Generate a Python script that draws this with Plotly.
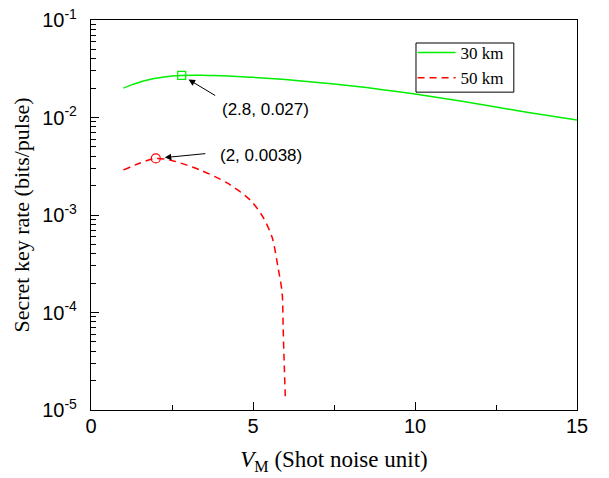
import math
import plotly.graph_objects as go

# ---- data ----
vm_30 = [1, 1.25, 1.5, 1.75, 2, 2.25, 2.5, 2.8, 3.2, 3.6, 4, 4.5, 5, 6, 7, 8, 9, 10, 11, 12, 13, 14, 15]
rate_30 = [0.0200, 0.0216, 0.0230, 0.0242, 0.0252, 0.0260, 0.0266, 0.0270, 0.0271, 0.0270, 0.0268,
           0.0264, 0.0258, 0.0245, 0.0229, 0.0212, 0.0193, 0.0174, 0.0155, 0.0137, 0.0120, 0.0106, 0.0094]
vm_50 = [1, 1.5, 2, 2.44, 3.36, 4.2, 4.91, 5.31, 5.59, 5.77, 5.9, 5.93, 5.96, 6.0]
rate_50 = [0.0029, 0.0034, 0.0038, 0.00366, 0.00290, 0.00213, 0.00143, 0.00095, 0.00059, 0.000293,
           0.000158, 0.000071, 0.0000326, 0.0000127]
peak_30 = (2.8, 0.027)
peak_50 = (2, 0.0038)
x_ticks = [0, 5, 10, 15]
y_ticks = [1e-5, 1e-4, 1e-3, 1e-2, 1e-1]
y_ticktext = ["10<sup>-5</sup>", "10<sup>-4</sup>", "10<sup>-3</sup>", "10<sup>-2</sup>", "10<sup>-1</sup>"]
series_names = ["30 km", "50 km"]

GREEN = "#00ee00"
RED = "#ff0000"
TICKFONT = dict(family="Liberation Sans, Arial", size=20, color="black")
SERIF = "Liberation Serif, Times New Roman"

fig = go.Figure()
fig.add_trace(go.Scatter(x=vm_30, y=rate_30, mode="lines", name=series_names[0],
                         line=dict(color=GREEN, width=1.5, shape="spline", smoothing=0.8)))
fig.add_trace(go.Scatter(x=vm_50, y=rate_50, mode="lines", name=series_names[1],
                         line=dict(color=RED, width=1.5, dash="7px,5px", shape="spline", smoothing=0.8)))
fig.add_trace(go.Scatter(x=[peak_30[0]], y=[peak_30[1]], mode="markers", showlegend=False,
                         marker=dict(symbol="square-open", size=8, color=GREEN, line=dict(width=1.2))))
fig.add_trace(go.Scatter(x=[peak_50[0]], y=[peak_50[1]], mode="markers", showlegend=False,
                         marker=dict(symbol="circle-open", size=9, color=RED, line=dict(width=1.2))))

ann_font = dict(family="Liberation Sans, Arial", size=17, color="black")
for (px, py), ax, ay, sx, sy, so in [(peak_30, 35, 21, 38, -34, 8), (peak_50, 51, -5, 62, 3, 9)]:
    fig.add_annotation(x=px, y=math.log10(py), xref="x", yref="y", text="", showarrow=True,
                       ax=ax, ay=ay, arrowhead=2, arrowsize=1.3, arrowwidth=1, arrowcolor="black",
                       standoff=so)
    fig.add_annotation(x=px, y=math.log10(py), xref="x", yref="y",
                       text=f"({px:g}, {py:g})", showarrow=False, xanchor="left", yanchor="middle",
                       xshift=sx, yshift=sy, font=ann_font)

# legend frame
fig.add_shape(type="rect", xref="paper", yref="paper", x0=0.6687, x1=0.870, y0=0.815, y1=0.941,
              line=dict(color="black", width=1), fillcolor="rgba(0,0,0,0)", layer="above")

minor_y = [m * 10 ** e for e in range(-5, -1) for m in range(2, 10)]

fig.update_layout(
    width=609, height=478,
    margin=dict(l=91, r=32, t=20, b=68),
    plot_bgcolor="white", paper_bgcolor="white",
    showlegend=True,
    legend=dict(x=0.6617, y=0.9615, xanchor="left", yanchor="top",
                bgcolor="rgba(0,0,0,0)", borderwidth=0,
                font=dict(family=SERIF, size=17, color="black"),
                tracegroupgap=0, itemwidth=38),
    xaxis=dict(range=[0, 15], tickvals=x_ticks, ticks="inside", ticklen=8, tickwidth=1,
               tickcolor="black", showline=True, linecolor="black", linewidth=1.3, mirror=True,
               showgrid=False, zeroline=False, tickfont=TICKFONT, automargin=False,
               ticklabelstandoff=-2, ticklabeloverflow="allow",
               minor=dict(tickvals=[2.5, 7.5, 12.5], ticks="inside", ticklen=5, tickcolor="black"),
               title=dict(text="<i>V</i><sub>M</sub> (Shot noise unit)",
                          font=dict(family=SERIF, size=23, color="black"), standoff=14)),
    yaxis=dict(type="log", range=[-5, -1], tickvals=y_ticks, ticktext=y_ticktext,
               ticks="inside", ticklen=8, tickwidth=1, tickcolor="black",
               showline=True, linecolor="black", linewidth=1.3, mirror=True,
               showgrid=False, zeroline=False, tickfont=TICKFONT, ticklabelstandoff=9,
               automargin=False, ticklabeloverflow="allow",
               minor=dict(tickvals=minor_y, ticks="inside", ticklen=5, tickcolor="black"),
               title=dict(text="Secret key rate (bits/pulse)",
                          font=dict(family=SERIF, size=22, color="black"), standoff=6)),
)

fig.write_html("out.html", config={"displayModeBar": False},
               post_script="document.body.style.margin='0';")
